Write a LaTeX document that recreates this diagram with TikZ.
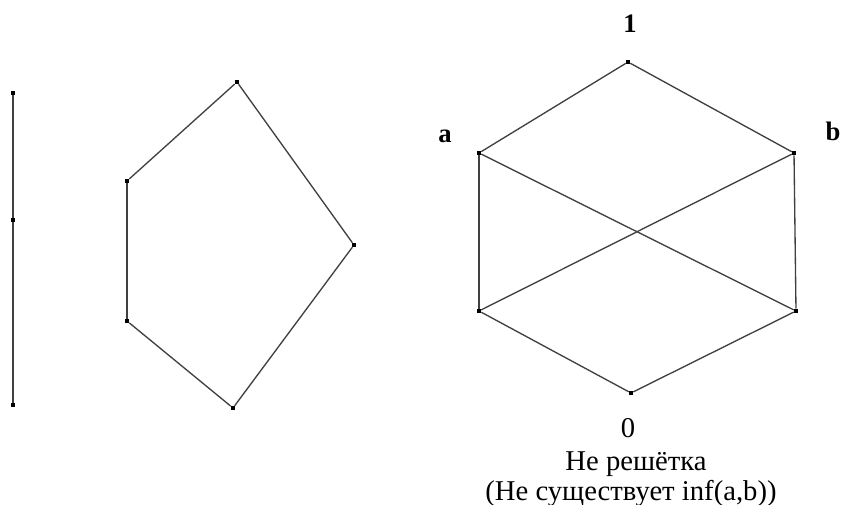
\documentclass[tikz,border=0pt]{standalone}
\usepackage{fontspec}
\setmainfont{Liberation Serif}
\usetikzlibrary{positioning}

\begin{document}
\begin{tikzpicture}[x=0.75pt, y=-0.75pt,
  pt/.style={rectangle, fill=black, inner sep=0pt, minimum size=3pt},
  edge/.style={line width=1pt, black!75},
  lbl/.style={anchor=base, font=\fontsize{20}{22}\selectfont\bfseries},
  txt/.style={anchor=base, font=\fontsize{21.5}{24}\selectfont}
]

\useasboundingbox (0,0) rectangle (841,505);

% Chain of three elements
\node[pt] (c1) at (13,93) {};
\node[pt] (c2) at (13,220) {};
\node[pt] (c3) at (13,405) {};
\draw[edge] (c1) -- (c2) -- (c3);

% Pentagon
\node[pt] (p1) at (237,82) {};
\node[pt] (p2) at (127,181) {};
\node[pt] (p3) at (127,321) {};
\node[pt] (p4) at (233,408) {};
\node[pt] (p5) at (354,245) {};
\foreach \u/\v in {p1/p2, p2/p3, p3/p4, p4/p5, p5/p1}{
  \draw[edge] (\u) -- (\v);
}

% Hexagon with crossing diagonals
\node[pt] (top) at (628,62) {};
\node[pt] (a) at (479,153) {};
\node[pt] (b) at (794,153) {};
\node[pt] (cl) at (479,311) {};
\node[pt] (cr) at (796,311) {};
\node[pt] (bot) at (631,393) {};
\foreach \u/\v in {top/a, top/b, a/cl, a/cr, b/cl, b/cr, cl/bot, cr/bot}{
  \draw[edge] (\u) -- (\v);
}

% Labels
\node[lbl] (l1) at (630,33) {1};
\node[lbl] (la) at (445,143) {a};
\node[lbl] (lb) at (833,141) {b};
\node[txt] (l0) at (628,437) {0};
\node[txt] (cap1) at (636,470) {Не решётка};
\node[txt] (cap2) at (631,500) {(Не существует inf(a,b))};

\end{tikzpicture}
\end{document}
